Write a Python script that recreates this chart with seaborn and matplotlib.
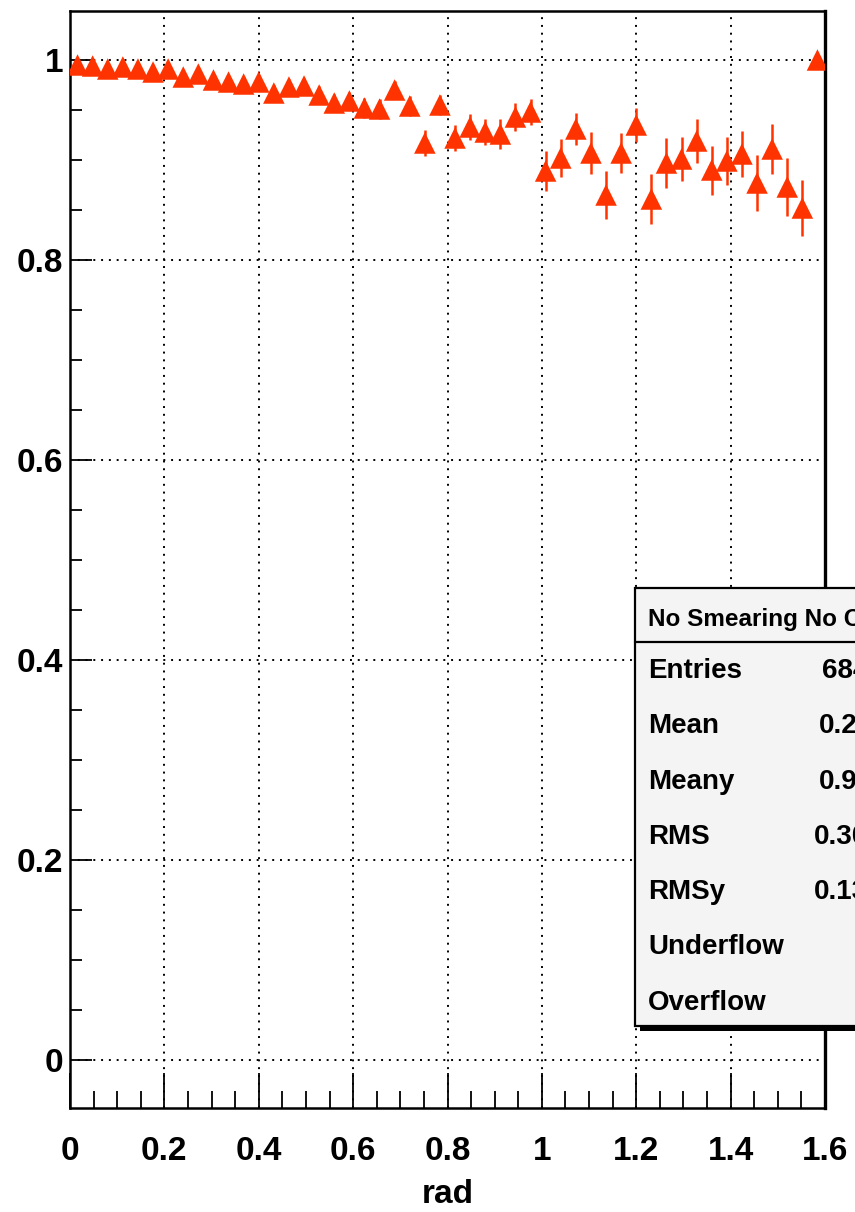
import numpy as np
import pandas as pd
import matplotlib
matplotlib.use("Agg")
import matplotlib.pyplot as plt
from matplotlib.patches import Rectangle
from matplotlib.lines import Line2D
import seaborn as sns

# Efficiency versus angle (rad), 50 bins between 0 and 1.6
bin_edges = np.linspace(0.0, 1.6, 51)
efficiency = [
    0.995, 0.994, 0.991, 0.993, 0.991, 0.988, 0.991, 0.983, 0.986, 0.980,
    0.978, 0.976, 0.978, 0.967, 0.973, 0.974, 0.965, 0.957, 0.959, 0.952,
    0.951, 0.970, 0.954, 0.917, 0.955, 0.922, 0.933, 0.928, 0.926, 0.943,
    0.948, 0.889, 0.902, 0.931, 0.907, 0.865, 0.907, 0.935, 0.861, 0.897,
    0.901, 0.919, 0.890, 0.899, 0.906, 0.877, 0.911, 0.873, 0.852, 1.000,
]
efficiency_err = [
    0.003, 0.003, 0.004, 0.004, 0.004, 0.005, 0.005, 0.005, 0.006, 0.006,
    0.006, 0.007, 0.007, 0.008, 0.008, 0.008, 0.009, 0.009, 0.009, 0.010,
    0.010, 0.009, 0.010, 0.0127, 0.010, 0.013, 0.0127, 0.0133, 0.015, 0.0137,
    0.0133, 0.020, 0.019, 0.016, 0.021, 0.024, 0.020, 0.017, 0.025, 0.025,
    0.0225, 0.022, 0.0245, 0.024, 0.0235, 0.028, 0.025, 0.029, 0.028, 0.0,
]
x_ticks = [0.0, 0.2, 0.4, 0.6, 0.8, 1.0, 1.2, 1.4, 1.6]
x_tick_labels = ["0", "0.2", "0.4", "0.6", "0.8", "1", "1.2", "1.4", "1.6"]
y_ticks = [0.0, 0.2, 0.4, 0.6, 0.8, 1.0]
y_tick_labels = ["0", "0.2", "0.4", "0.6", "0.8", "1"]

stats_title = "No Smearing No Cuts"
stats_names = ["Entries", "Mean", "Meany", "RMS", "RMSy", "Underflow", "Overflow"]
stats_values = ["684", "0.2", "0.9", "0.30", "0.13", "", ""]

bin_centers = 0.5 * (bin_edges[:-1] + bin_edges[1:])
df = pd.DataFrame({"rad": bin_centers, "eff": efficiency, "err": efficiency_err})

sns.set_theme(style="white")
plt.rcParams["font.family"] = ["Liberation Sans", "DejaVu Sans"]
plt.rcParams["font.weight"] = "bold"
for key in ["text.color", "axes.labelcolor", "xtick.color", "ytick.color",
            "axes.edgecolor"]:
    plt.rcParams[key] = "black"

W, H, DPI = 855, 1212, 100
fig = plt.figure(figsize=(W / DPI, H / DPI), dpi=DPI, facecolor="white")
ax = fig.add_axes([70 / W, 1 - 1108 / H, (825 - 70) / W, (1108 - 11) / H])
ax.set_facecolor("white")

marker_color = "#ff3300"

# error bars, then triangle markers on top
ax.errorbar(df["rad"], df["eff"], yerr=df["err"], fmt="none",
            ecolor=marker_color, elinewidth=1.8, capsize=0, zorder=3)
sns.scatterplot(data=df, x="rad", y="eff", marker="^", s=240,
                color=marker_color, edgecolor="none", linewidth=0,
                ax=ax, zorder=4, legend=False)

ax.set_xlim(0.0, 1.6)
ax.set_ylim(-0.048, 1.049)

ax.set_xticks(x_ticks)
ax.set_xticklabels(x_tick_labels)
ax.set_yticks(y_ticks)
ax.set_yticklabels(y_tick_labels)
ax.set_xticks(np.arange(0.05, 1.6, 0.05), minor=True)
ax.set_yticks(np.arange(-0.0, 1.05, 0.05), minor=True)

ax.tick_params(axis="x", which="major", direction="in", length=25, width=1.3,
               pad=20, labelsize=24, bottom=True, top=False)
ax.tick_params(axis="x", which="minor", direction="in", length=12, width=1.3,
               bottom=True, top=False)
ax.tick_params(axis="y", which="major", direction="in", length=16, width=1.3,
               pad=5, labelsize=24, left=True, right=False)
ax.tick_params(axis="y", which="minor", direction="in", length=8.5, width=1.3,
               left=True, right=False)
for lab in ax.get_xticklabels() + ax.get_yticklabels():
    lab.set_fontweight("bold")
    lab.set_color("black")

ax.set_xlabel("rad", fontsize=24, fontweight="bold", labelpad=9, color="black")
ax.set_ylabel("")

# dotted grid at the major ticks
ax.grid(True, which="major", color="black", linestyle=(0, (1, 3)),
        linewidth=1.4)
ax.set_axisbelow(True)

for side in ["left", "bottom", "right", "top"]:
    ax.spines[side].set_visible(True)
    ax.spines[side].set_color("black")
    ax.spines[side].set_linewidth(1.8)
ax.spines["right"].set_linewidth(2.4)

# statistics box (drawn in figure pixels, running off the right edge)
def fx(px):
    return px / W

def fy(py):
    return 1 - py / H

box_left, box_top, box_bottom = 635, 588, 1026
box_right = 900
fig.patches.append(Rectangle((fx(box_left + 5), fy(box_bottom + 5)),
                             fx(box_right - box_left), fy(box_top) - fy(box_bottom),
                             transform=fig.transFigure, facecolor="black",
                             edgecolor="none", zorder=10))
fig.patches.append(Rectangle((fx(box_left), fy(box_bottom)),
                             fx(box_right - box_left), fy(box_top) - fy(box_bottom),
                             transform=fig.transFigure, facecolor="#f4f4f4",
                             edgecolor="black", linewidth=1.6, zorder=11))
fig.lines.append(Line2D([fx(box_left), fx(box_right)], [fy(642), fy(642)],
                        transform=fig.transFigure, color="black",
                        linewidth=1.6, zorder=12))

fig.text(fx(648), fy(626), stats_title, fontsize=17.5, fontweight="bold",
         ha="left", va="baseline", zorder=13, color="black")
value_x = [822, 819, 819, 814, 814, 819, 819]
for i, (name, val) in enumerate(zip(stats_names, stats_values)):
    base = 678 + 55.3 * i
    fig.text(fx(648), fy(base), name, fontsize=20, fontweight="bold",
             ha="left", va="baseline", zorder=13, color="black")
    if val:
        fig.text(fx(value_x[i]), fy(base), val, fontsize=20, fontweight="bold",
                 ha="left", va="baseline", zorder=13, color="black")

fig.savefig("out.png", dpi=DPI, facecolor="white")
